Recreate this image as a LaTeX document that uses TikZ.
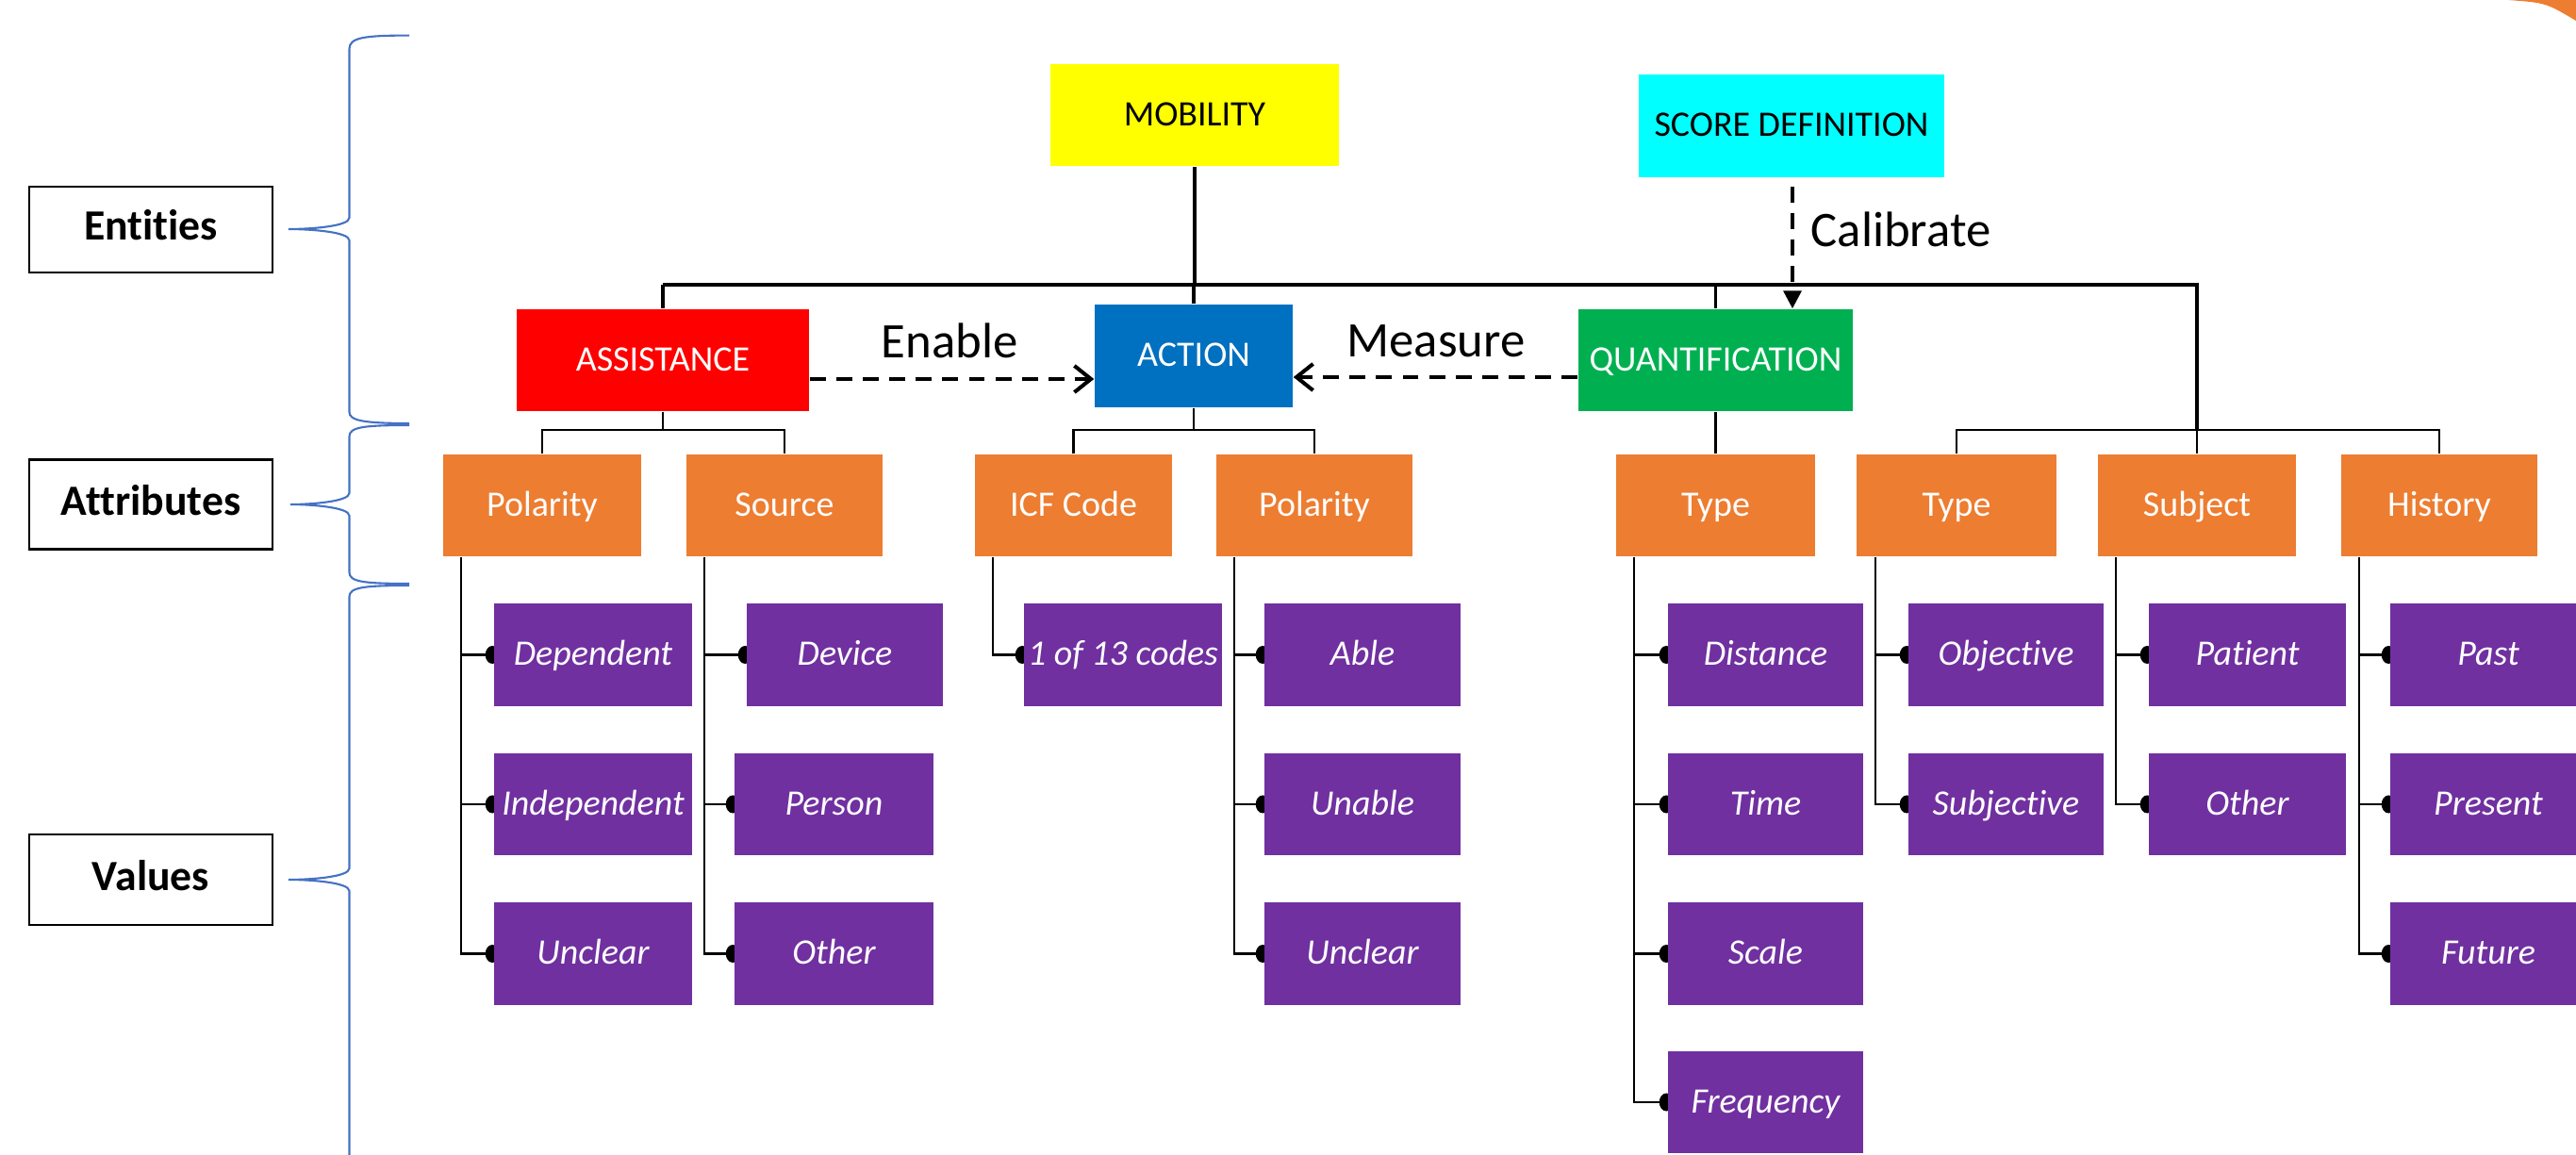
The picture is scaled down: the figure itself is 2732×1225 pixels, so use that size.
\documentclass[tikz,border=0pt]{standalone}
\usepackage{fontspec}
\setmainfont{Carlito}[RawFeature={-liga;-clig;-calt;-dlig}]
\usetikzlibrary{arrows.meta,calc,backgrounds}
\definecolor{cyel}{HTML}{FFFF00}
\definecolor{ccyan}{HTML}{00FFFF}
\definecolor{cred}{HTML}{FF0000}
\definecolor{cblueact}{HTML}{0070C0}
\definecolor{cgreen}{HTML}{00B050}
\definecolor{corange}{HTML}{ED7D31}
\definecolor{cpurple}{HTML}{7030A0}
\definecolor{cbrace}{HTML}{4472C4}
\begin{document}
\begin{tikzpicture}[x=0.01cm,y=-0.01cm,
  box/.style={inner sep=0pt, minimum height=1.08cm, text height=0.644em, text depth=0pt, font=\fontsize{10.8pt}{12pt}\selectfont},
  entbox/.style={box, fill=#1, text=white},
  attrbox/.style={box, fill=corange, text=white, minimum width=2.09cm},
  valbox/.style={box, fill=cpurple, text=white, minimum width=2.09cm, font=\fontsize{10.8pt}{12pt}\selectfont\itshape},
  labbox/.style={draw=black, line width=0.6pt, fill=white, minimum width=2.58cm, inner sep=0pt, text height=0.644em, text depth=0pt, font=\fontsize{13pt}{15pt}\selectfont\bfseries},
  mainbar/.style={line width=1.2pt},
  conn/.style={line width=0.9pt},
  subline/.style={line width=0.7pt},
  dasharrow/.style={line width=1.15pt, dash pattern=on 4.8pt off 3.2pt},
  rellabel/.style={font=\fontsize{15pt}{18pt}\selectfont, inner sep=0pt},
  bracepath/.style={draw=cbrace, line width=0.6pt}
]
\useasboundingbox (0,0) rectangle (2732,1225);
\clip (0,0) rectangle (2732,1225);

% orange corner
\fill[corange] (2660,0) .. controls (2700,3) .. (2732,22) -- (2732,0) -- cycle;

% left labels
\node[labbox, minimum height=0.91cm] (ent) at (160,243.5) {Entities};
\node[labbox, minimum height=0.95cm] (att) at (160,535) {Attributes};
\node[labbox, minimum height=0.96cm] (val) at (160,933) {Values};

% braces
\draw[bracepath] (434,37.6) .. controls (385,37.6) and (370.5,40) .. (370.5,52) -- (370.5,231) .. controls (370.5,240) and (330,243) .. (306,243) .. controls (330,243) and (370.5,246) .. (370.5,255) -- (370.5,437) .. controls (370.5,446) and (385,449) .. (434,449);
\draw[bracepath] (434,451) .. controls (385,451) and (370.5,453) .. (370.5,463) -- (370.5,523) .. controls (370.5,532) and (330,535) .. (308,535) .. controls (330,535) and (370.5,538) .. (370.5,547) -- (370.5,607) .. controls (370.5,617) and (385,619) .. (434,619);
\draw[bracepath] (434,621) .. controls (385,621) and (370.5,623) .. (370.5,633) -- (370.5,921) .. controls (370.5,930) and (330,933) .. (306,933) .. controls (330,933) and (370.5,936) .. (370.5,945) -- (370.5,1233) .. controls (370.5,1243) and (385,1245) .. (434,1245);

% entities
\node[box, fill=cyel, minimum width=3.06cm] (mob) at (1267,122) {MOBILITY};
\node[box, fill=ccyan, minimum width=3.24cm, minimum height=1.09cm] (sd) at (1900,133.5) {SCORE DEFINITION};
\node[entbox=cred, minimum width=3.10cm] (ass) at (703,382) {ASSISTANCE};
\node[entbox=cblueact, minimum width=2.10cm, minimum height=1.09cm] (act) at (1266,377.5) {ACTION};
\node[entbox=cgreen, minimum width=2.91cm] (qua) at (1819.5,382) {QUANTIFICATION};

% attributes
\node[attrbox, minimum width=2.10cm] (pol1) at (575,536) {Polarity};
\node[attrbox, minimum width=2.08cm] (src) at (832,536) {Source};
\node[attrbox] (icf) at (1138.5,536) {ICF Code};
\node[attrbox, minimum width=2.08cm] (pol2) at (1394,536) {Polarity};
\node[attrbox, minimum width=2.11cm] (typ1) at (1819.5,536) {Type};
\node[attrbox, minimum width=2.11cm] (typ2) at (2075,536) {Type};
\node[attrbox, minimum width=2.10cm] (subj) at (2330,536) {Subject};
\node[attrbox, minimum width=2.08cm] (hist) at (2587,536) {History};

% values
\node[valbox, minimum width=2.10cm] (dep) at (629,694.5) {Dependent};
\node[valbox, minimum width=2.10cm] (ind) at (629,853) {Independent};
\node[valbox, minimum width=2.10cm] (unca) at (629,1011.5) {Unclear};
\node[valbox, minimum width=2.08cm] (dev) at (896,694.5) {Device};
\node[valbox, minimum width=2.11cm] (per) at (884.5,853) {Person};
\node[valbox, minimum width=2.11cm] (otha) at (884.5,1011.5) {Other};
\node[valbox, minimum width=2.10cm] (one) at (1191,694.5) {1 of 13 codes};
\node[valbox, minimum width=2.08cm] (abl) at (1445,694.5) {Able};
\node[valbox, minimum width=2.08cm] (una) at (1445,853) {Unable};
\node[valbox, minimum width=2.08cm] (uncb) at (1445,1011.5) {Unclear};
\node[valbox, minimum width=2.07cm] (dis) at (1872.5,694.5) {Distance};
\node[valbox, minimum width=2.07cm] (tim) at (1872.5,853) {Time};
\node[valbox, minimum width=2.07cm] (sca) at (1872.5,1011.5) {Scale};
\node[valbox, minimum width=2.07cm] (fre) at (1872.5,1169) {Frequency};
\node[valbox, minimum width=2.07cm] (obj) at (2127.5,694.5) {Objective};
\node[valbox, minimum width=2.07cm] (sbj) at (2127.5,853) {Subjective};
\node[valbox, minimum width=2.09cm] (pat) at (2383.5,694.5) {Patient};
\node[valbox, minimum width=2.09cm] (othb) at (2383.5,853) {Other};
\node[valbox, minimum width=2.08cm] (pas) at (2639,694.5) {Past};
\node[valbox, minimum width=2.08cm] (pre) at (2639,853) {Present};
\node[valbox, minimum width=2.08cm] (fut) at (2639,1011.5) {Future};

% main tree
\coordinate (bary) at (0,302);
\coordinate (suby) at (0,456);
\draw[mainbar] (mob.south) -- (mob.south |- bary);
\draw[mainbar] (ass.north |- bary) -- (bary -| subj.north) -- (subj.north |- suby);
\draw[conn] (ass.north |- bary) -- (ass.north);
\draw[conn] (act.north |- bary) -- (act.north);
\draw[conn] (qua.north |- bary) -- (qua.north);

\draw[subline] (ass.south) -- (ass.south |- suby);
\draw[subline] (pol1.north) -- (pol1.north |- suby) -- (src.north |- suby) -- (src.north);
\draw[subline] (act.south) -- (act.south |- suby);
\draw[subline] (icf.north) -- (icf.north |- suby) -- (pol2.north |- suby) -- (pol2.north);
\draw[subline] (qua.south) -- (typ1.north);
\draw[subline] (typ2.north) -- (typ2.north |- suby) -- (hist.north |- suby) -- (hist.north);
\draw[subline] (subj.north |- suby) -- (subj.north);

% relations
\coordinate (en1) at ($(ass.east)+(0,20)$);
\draw[dasharrow, -{Straight Barb[length=5pt,width=8pt]}] (en1) -- (en1 -| act.west);
\node[rellabel, anchor=base] (enl) at (1007,380) {Enable};
\coordinate (me1) at ($(qua.west)+(0,18)$);
\draw[dasharrow, -{Straight Barb[length=5pt,width=8pt]}] (me1) -- (me1 -| act.east);
\node[rellabel, anchor=base] (mel) at (1523,379) {Measure};
\coordinate (ca1) at ($(sd.south)+(1,9)$);
\draw[dasharrow, line width=1pt, -{Triangle[length=5.4pt,width=5.4pt]}] (ca1) -- (ca1 |- qua.north);
\node[rellabel, anchor=base west] (cal) at (1920,262) {Calibrate};

% children connectors
\begin{scope}[on background layer]
\foreach \pnode/\lnode/\kids in {pol1/unca/{dep,ind,unca}, src/otha/{dev,per,otha}, icf/one/{one}, pol2/uncb/{abl,una,uncb}, typ1/fre/{dis,tim,sca,fre}, typ2/sbj/{obj,sbj}, subj/othb/{pat,othb}, hist/fut/{pas,pre,fut}}{
  \coordinate (tr) at ($(\pnode.south west)+(20,0)$);
  \draw[subline] (tr) |- (\lnode.west);
  \foreach \kid in \kids {
    \draw[subline] (tr |- \kid.west) -- (\kid.west);
    \fill ($(\kid.west)+(-1,0)$) ellipse [x radius=0.75mm, y radius=0.95mm];
  }
}
\end{scope}
\end{tikzpicture}
\end{document}
